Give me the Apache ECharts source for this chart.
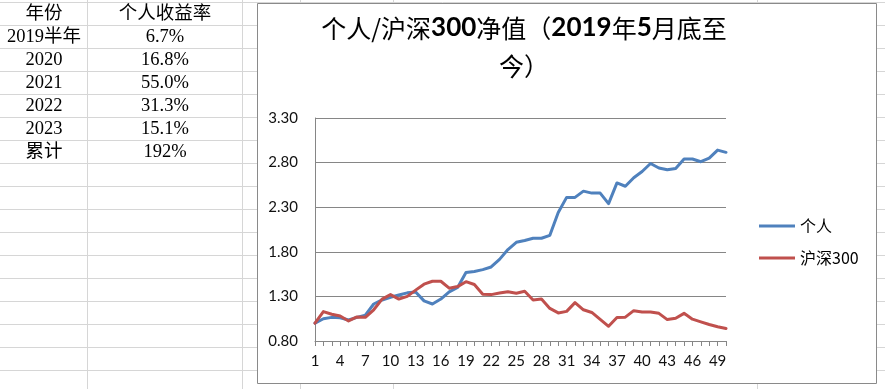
<!DOCTYPE html>
<html>
<head>
<meta charset="utf-8">
<script src="https://cdn.jsdelivr.net/npm/echarts@6/dist/echarts.min.js"></script>
<style>
html,body{margin:0;padding:0;background:#fff;}
#main{width:885px;height:389px;}
</style>
</head>
<body>
<div id="main"></div>
<script>
// ---- data ----
const categories = [];
for (let i = 1; i <= 50; i++) categories.push(String(i));

const personal = [1.00,1.05,1.065,1.06,1.035,1.065,1.09,1.215,1.26,1.29,
  1.315,1.34,1.35,1.25,1.215,1.27,1.35,1.40,1.567,1.58,
  1.60,1.63,1.715,1.825,1.907,1.927,1.952,1.952,1.985,2.24,
  2.41,2.41,2.48,2.458,2.458,2.34,2.572,2.535,2.63,2.70,
  2.79,2.74,2.72,2.735,2.84,2.84,2.81,2.85,2.94,2.915];

const hs300 = [1.00,1.13,1.10,1.08,1.025,1.07,1.065,1.15,1.27,1.32,
  1.27,1.30,1.37,1.437,1.47,1.47,1.392,1.41,1.465,1.433,
  1.324,1.32,1.337,1.352,1.335,1.357,1.26,1.27,1.165,1.115,
  1.132,1.23,1.15,1.12,1.043,0.965,1.063,1.067,1.14,1.125,
  1.125,1.11,1.04,1.055,1.11,1.045,1.015,0.985,0.96,0.94];

const seriesNames = ['个人', '沪深300'];
const tableHeader = ['年份', '个人收益率'];
const tableYears = ['2019半年', '2020', '2021', '2022', '2023', '累计'];
const tableReturns = ['6.7%', '16.8%', '55.0%', '31.3%', '15.1%', '192%'];

// ---- layout helpers (decoration) ----
const graphics = [];
const gridColor = '#d6d6d6';
for (let k = 0; k < 17; k++) {
  const y = 2.5 + 23 * k;
  graphics.push({type: 'line', z: -20, shape: {x1: 0, y1: y, x2: 885, y2: y},
    style: {stroke: gridColor, lineWidth: 1}});
}
[87.5, 242.5, 300.5, 393.5, 757.5].forEach(x => {
  graphics.push({type: 'line', z: -20, shape: {x1: x, y1: 0, x2: x, y2: 389},
    style: {stroke: gridColor, lineWidth: 1}});
});
// chart box
graphics.push({type: 'rect', z: -10, shape: {x: 257.5, y: 3.5, width: 619, height: 380},
  style: {fill: '#fff', stroke: '#8a8a8a', lineWidth: 1}});
// table text
const tableFont = '18.5px "Liberation Serif", "Noto Sans CJK SC", serif';
const rows = [tableHeader].concat(tableYears.map((y, i) => [y, tableReturns[i]]));
rows.forEach((r, k) => {
  const cy = 14 + 23 * k;
  graphics.push({type: 'text', z: 5, style: {text: r[0], x: 44, y: cy, align: 'center',
    verticalAlign: 'middle', font: tableFont, fill: '#000'}});
  graphics.push({type: 'text', z: 5, style: {text: r[1], x: 165, y: cy, align: 'center',
    verticalAlign: 'middle', font: tableFont, fill: '#000'}});
});

const chart = echarts.init(document.getElementById('main'));
const cjk = '"Noto Sans CJK SC", sans-serif';
const num = 'Lato, "Noto Sans CJK SC", sans-serif';
chart.setOption({
  animation: false,
  backgroundColor: '#fff',
  title: {
    left: 524, top: 9, textAlign: 'center', padding: 0,
    text: '{n|个人/沪深}{b|300}{n|净值（}{b|2019}{n|年}{b|5}{n|月底至}\n{n|今）}',
    textStyle: {
      rich: {
        n: {fontFamily: cjk, fontSize: 25, fontWeight: 'normal', color: '#000', lineHeight: 38},
        b: {fontFamily: 'Lato, sans-serif', fontSize: 26, fontWeight: 'bold', color: '#000', lineHeight: 38}
      }
    }
  },
  legend: {
    orient: 'vertical', left: 759, top: 218, padding: 0,
    itemWidth: 36, itemHeight: 3, itemGap: 16, icon: 'rect',
    textStyle: {fontFamily: cjk, fontSize: 16, color: '#000', lineHeight: 16},
    data: seriesNames
  },
  grid: {left: 315, top: 118, width: 411, height: 223, containLabel: false},
  xAxis: {
    type: 'category', data: categories, boundaryGap: false,
    axisLine: {lineStyle: {color: '#868686', width: 1}},
    axisTick: {show: true, interval: 0, length: 5, lineStyle: {color: '#868686'}},
    axisLabel: {interval: 2, margin: 13, fontFamily: num, fontSize: 15, color: '#111'},
    splitLine: {show: false}
  },
  yAxis: {
    type: 'value', min: 0.8, max: 3.3, interval: 0.5,
    axisLine: {show: true, lineStyle: {color: '#868686', width: 1}},
    axisTick: {show: false},
    axisLabel: {margin: 17, fontFamily: num, fontSize: 15, color: '#111',
      formatter: v => v.toFixed(2)},
    splitLine: {show: true, lineStyle: {color: '#868686', width: 1}}
  },
  series: [
    {name: seriesNames[0], type: 'line', data: personal, showSymbol: false, symbol: 'none',
      lineStyle: {color: '#4F81BD', width: 3, join: 'round', cap: 'round'},
      itemStyle: {color: '#4F81BD'}, z: 3},
    {name: seriesNames[1], type: 'line', data: hs300, showSymbol: false, symbol: 'none',
      lineStyle: {color: '#C0504D', width: 3, join: 'round', cap: 'round'},
      itemStyle: {color: '#C0504D'}, z: 4}
  ],
  graphic: graphics
});
</script>
</body>
</html>
